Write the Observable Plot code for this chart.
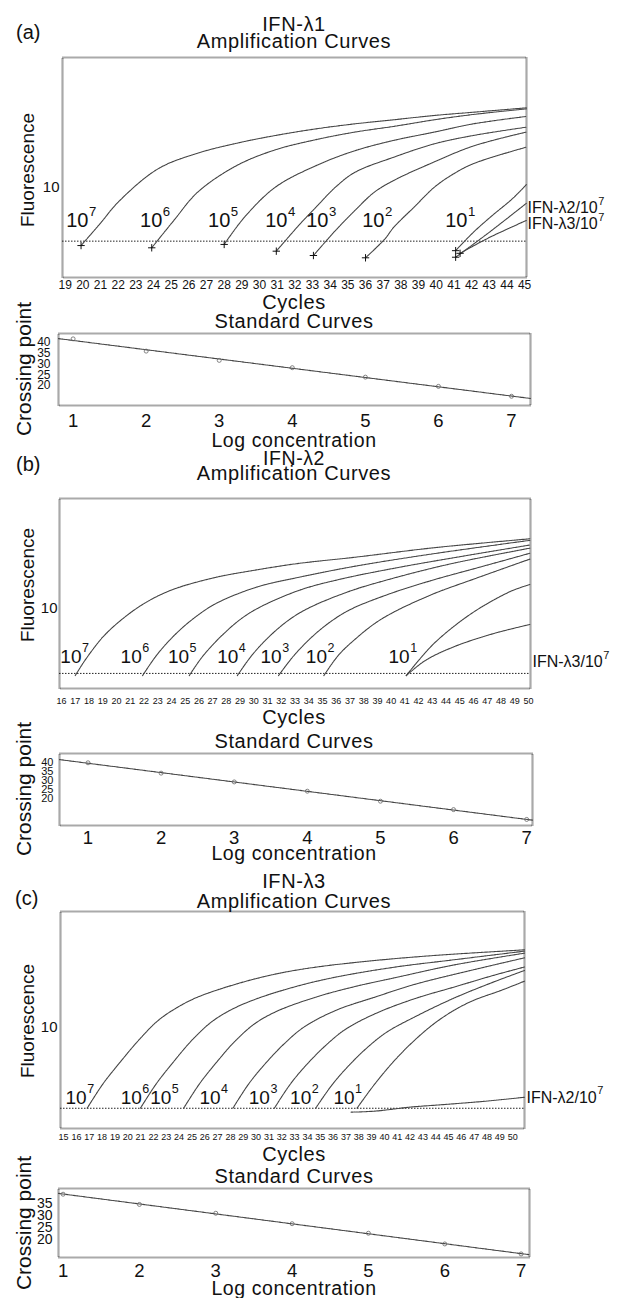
<!DOCTYPE html>
<html><head><meta charset="utf-8">
<script src="https://cdn.jsdelivr.net/npm/d3@7"></script>
<script src="https://cdn.jsdelivr.net/npm/@observablehq/plot@0.6"></script>
<style>
html,body{margin:0;padding:0;background:#fff;}
#root{position:relative;width:618px;height:1298px;overflow:hidden;font-family:"Liberation Sans",Arial,Helvetica,sans-serif;color:#111;}
.lbl{position:absolute;white-space:nowrap;line-height:1;}
.t{transform:translate(-50%,-50%);letter-spacing:0.6px;}
.v{transform:translate(-50%,-50%) rotate(-90deg);}
.p{transform:translate(0,-50%);}
</style></head><body><div id="root"></div>
<script>
const FONT = '"Liberation Sans", Arial, Helvetica, sans-serif';

// ---------- Panel (a) IFN-λ1 amplification curves: [cycle, fluorescence] ----------
const CYCLES_A = [19,20,21,22,23,24,25,26,27,28,29,30,31,32,33,34,35,36,37,38,39,40,41,42,43,44,45];
const A_E7 = [[19.9,3.66],[21.0,5.39],[22.0,7.76],[24.25,13.8],[26.5,18.1],[28.7,21.5],[30.9,24.6],[33.2,27.6],[35.4,30.1],[37.6,32.3],[39.9,34.8],[42.1,36.8],[45.1,39.7]];
const A_E6 = [[23.9,3.52],[25.15,5.65],[26.5,9.22],[28.7,14.6],[30.9,19.2],[33.2,22.9],[35.4,26.1],[37.6,28.8],[39.9,32.3],[42.1,35.4],[45.1,39.0]];
const A_E5 = [[28.0,3.73],[29.15,5.98],[30.9,10.06],[33.2,14.6],[35.4,18.9],[37.6,22.6],[39.9,26.1],[42.1,30.1],[45.1,34.2]];
const A_E4 = [[30.95,3.32],[32.3,5.33],[33.2,7.12],[34.3,10.06],[35.4,13.0],[37.6,16.9],[39.9,21.3],[42.1,24.6],[45.1,28.4]];
const A_E3 = [[33.05,3.08],[34.3,4.75],[35.4,6.72],[36.5,9.22],[37.6,11.3],[39.9,15.6],[42.1,20.5],[45.1,26.1]];
const A_E2 = [[36.0,2.96],[37.1,4.11],[37.6,5.03],[38.75,7.12],[39.9,10.06],[41.0,12.7],[42.1,15.1],[45.1,20.1]];
const A_E1 = [[41.1,3.35],[42.1,4.6],[43.2,6.2],[44.3,8.2],[45.1,10.5]];
const A_L2 = [[41.1,2.99],[43.0,4.6],[45.1,7.6]];
const A_L3 = [[41.35,3.2],[43.0,4.2],[45.1,5.65]];
const A_THRESHOLD = 3.95;
const A_LABEL_EXP = ["7","6","5","4","3","2","1"];
const A_LABEL_X = [19.06,23.24,27.09,30.32,32.64,35.81,40.51];
const A_LABEL_Y = 5.65;
const A_SIDE_TEXT = ["IFN-λ2/10","IFN-λ3/10"];
const A_SIDE_EXP = ["7","7"];
const A_SIDE_Y = [7.0, 5.3];

// ---------- Panel (b) IFN-λ2 ----------
const CYCLES_B = [16,17,18,19,20,21,22,23,24,25,26,27,28,29,30,31,32,33,34,35,36,37,38,39,40,41,42,43,44,45,46,47,48,49,50];
const B_E7 = [[17.0,3.13],[17.7,4.07],[19.0,6.09],[20.15,7.89],[21.6,10.24],[23.0,12.39],[24.45,14.3],[27.3,17.2],[30.2,19.5],[33.1,21.7],[37.4,24.3],[43.1,28.6],[50.1,33.4]];
const B_E6 = [[21.9,3.13],[23.0,4.56],[24.45,6.64],[25.9,8.86],[27.3,10.97],[30.2,14.47],[33.1,17.0],[37.4,20.8],[43.1,25.8],[50.1,32.5]];
const B_E5 = [[25.3,3.13],[26.3,4.4],[27.7,6.3],[29.1,8.4],[30.5,10.3],[33.4,13.8],[36.3,16.6],[40.6,20.4],[45.5,25.0],[50.1,30.0]];
const B_E4 = [[28.8,3.13],[29.9,4.5],[31.3,6.4],[32.7,8.4],[34.1,10.2],[37.0,13.5],[39.9,16.6],[44.2,21.5],[50.1,28.4]];
const B_E3 = [[31.8,3.13],[32.9,4.4],[34.3,6.2],[35.7,8.1],[37.1,9.9],[40.0,13.0],[43.0,16.3],[46.5,20.5],[50.1,26.0]];
const B_E2 = [[35.1,3.13],[36.2,4.5],[37.4,5.9],[38.8,7.7],[40.2,9.4],[43.1,12.9],[46.0,16.6],[50.1,23.5]];
const B_E1 = [[41.1,3.13],[42.0,4.07],[43.1,5.43],[44.5,7.24],[46.0,9.39],[47.4,11.47],[48.85,13.65],[50.1,15.15]];
const B_L3 = [[41.1,3.13],[42.5,4.07],[44.5,5.12],[47.4,6.45],[50.1,7.58]];
const B_THRESHOLD = 3.25;
const B_LABEL_EXP = ["7","6","5","4","3","2","1"];
const B_LABEL_X = [15.91,20.30,23.75,27.33,30.49,33.79,39.81];
const B_LABEL_Y = 4.36;
const B_SIDE_TEXT = ["IFN-λ3/10"];
const B_SIDE_EXP = ["7"];
const B_SIDE_Y = [3.95];

// ---------- Panel (c) IFN-λ3 ----------
const CYCLES_C = [15,16,17,18,19,20,21,22,23,24,25,26,27,28,29,30,31,32,33,34,35,36,37,38,39,40,41,42,43,44,45,46,47,48,49,50];
const C_E7 = [[16.84,2.475],[18.07,3.77],[19.3,5.33],[20.83,7.98],[22.37,11.29],[23.9,14.22],[25.44,16.91],[28.51,21.29],[31.58,25.3],[34.65,28.42],[39.26,31.9],[43.86,34.78],[50.92,38.37]];
const C_E6 = [[20.99,2.475],[22.22,3.77],[23.44,5.33],[24.98,7.98],[26.51,10.97],[28.05,13.58],[30.04,16.43],[33.11,20.33],[36.19,23.9],[40.79,28.42],[45.4,32.28],[50.92,37.5]];
const C_E5 = [[24.36,2.475],[25.59,3.77],[26.82,5.33],[28.36,7.89],[29.89,10.66],[31.58,13.19],[34.65,16.91],[37.72,20.33],[40.79,23.63],[45.4,29.5],[50.92,36.22]];
const C_E4 = [[28.2,2.475],[29.43,3.77],[30.66,5.27],[32.19,7.54],[33.73,10.06],[36.19,13.42],[39.26,16.91],[42.33,21.05],[46.93,27.14],[50.92,33.4]];
const C_E3 = [[31.43,2.475],[32.65,3.73],[33.88,5.18],[35.42,7.32],[36.95,9.66],[39.26,12.67],[42.33,16.43],[45.4,20.1],[48.47,24.6],[50.92,28.5]];
const C_E2 = [[34.65,2.475],[35.88,3.66],[37.11,5.03],[38.64,7.03],[40.18,9.22],[42.33,11.96],[45.4,16.6],[48.47,21.9],[50.92,26.84]];
const C_E1 = [[37.87,2.475],[39.26,3.77],[40.79,5.65],[42.33,7.98],[43.86,10.66],[45.4,13.42],[46.93,15.96],[49.08,18.98],[50.92,22.31]];
const C_L2 = [[37.41,2.31],[39.26,2.35],[42.02,2.52],[44.78,2.64],[47.85,2.79],[50.92,2.99]];
const C_THRESHOLD = 2.47;
const C_LABEL_EXP = ["7","6","5","4","3","2","1"];
const C_LABEL_X = [15.15,19.45,21.75,25.59,29.43,32.65,36.03];
const C_LABEL_Y = 2.98;
const C_SIDE_TEXT = ["IFN-λ2/10"];
const C_SIDE_EXP = ["7"];
const C_SIDE_Y = [2.98];

const FLUOR_TICKS = [10];
const LABEL_BASE = "10";

// ---------- Standard curves: crossing point vs log concentration ----------
const LOG_CONC = [1,2,3,4,5,6,7];
const CP_A = [41.7,36.0,31.7,28.3,23.9,19.6,15.0];
const CP_B = [39.8,34.0,29.1,23.9,18.3,13.6,8.1];
const CP_C = [38.9,34.6,30.9,26.5,22.5,18.0,13.8];
const CP_TICKS_AB = [20,25,30,35,40];
const CP_TICKS_C = [20,25,30,35];

const root = document.getElementById("root");
const ctx = document.createElement("canvas").getContext("2d");
function textWidth(s, size) { ctx.font = size + "px " + FONT; return ctx.measureText(s).width; }
function place(svg, top) {
  svg.style.position = "absolute";
  svg.style.left = "0px";
  svg.style.top = top + "px";
  root.appendChild(svg);
}
const baseStyle = {background: "none", overflow: "visible", fontFamily: FONT, color: "#111"};
const frameMark = () => Plot.frame({stroke: "#555", strokeWidth: 2.2, strokeDasharray: "1,1"});

function ampPlot(c) {
  const [l, r, t, b] = c.frame;
  const mt = 4, mb = 24;
  const starts = c.markers ? c.series.map(s => s[0]) : [];
  const baseW = textWidth(LABEL_BASE, c.labelFont);
  const sideW = c.sideText.map(s => textWidth(s, 16));
  const svg = Plot.plot({
    width: 618, height: b - t + mt + mb,
    marginLeft: l, marginRight: 618 - r, marginTop: mt, marginBottom: mb,
    x: {domain: c.xDomain, axis: null},
    y: {type: "log", domain: c.yDomain, axis: null},
    style: baseStyle,
    marks: [
      frameMark(),
      Plot.ruleY([c.threshold], {stroke: "#222", strokeWidth: 1, strokeDasharray: "1.5,1.5"}),
      ...c.series.map(s => Plot.line(s, {x: d => d[0], y: d => d[1], curve: "catmull-rom", stroke: "#444", strokeWidth: 1.1, strokeDasharray: "1.8,0.7"})),
      Plot.dot(starts, {x: d => d[0], y: d => d[1], symbol: "plus", r: 2.5, stroke: "#111", strokeWidth: 1}),
      Plot.text(c.ticks, {x: d => d, text: d => String(d), frameAnchor: "bottom", dy: c.tickDy, fontSize: c.tickFont, lineAnchor: "middle"}),
      Plot.text(FLUOR_TICKS, {y: d => d, text: d => String(d), frameAnchor: "left", dx: c.tenDx, textAnchor: "end", lineAnchor: "middle", fontSize: 15}),
      Plot.text(c.labelExp, {x: (d, i) => c.labelX[i], y: () => c.labelY, text: () => LABEL_BASE, textAnchor: "start", lineAnchor: "middle", fontSize: c.labelFont}),
      Plot.text(c.labelExp, {x: (d, i) => c.labelX[i], y: () => c.labelY, text: d => d, dx: baseW + 0.5, dy: -c.labelFont * 0.42, textAnchor: "start", lineAnchor: "middle", fontSize: c.labelFont * 0.66}),
      ...c.sideText.map((s, i) => Plot.text([s], {x: () => c.xDomain[1], y: () => c.sideY[i], text: d => d, dx: c.sideDx, textAnchor: "start", lineAnchor: "middle", fontSize: 16})),
      ...c.sideExp.map((s, i) => Plot.text([s], {x: () => c.xDomain[1], y: () => c.sideY[i], text: d => d, dx: c.sideDx + sideW[i] + 0.5, dy: -6.5, textAnchor: "start", lineAnchor: "middle", fontSize: 11}))
    ]
  });
  place(svg, t - mt);
}

function fit(xs, ys) {
  const mx = d3.mean(xs), my = d3.mean(ys);
  const slope = d3.sum(xs, (x, i) => (x - mx) * (ys[i] - my)) / d3.sum(xs, x => (x - mx) ** 2);
  return x => my + slope * (x - mx);
}

function stdPlot(c) {
  const [l, r, t, b] = c.frame;
  const mt = 4, mb = 30;
  const f = fit(LOG_CONC, c.values);
  const fitLine = c.xDomain.map(x => ({x, y: f(x)}));
  const svg = Plot.plot({
    width: 618, height: b - t + mt + mb,
    marginLeft: l, marginRight: 618 - r, marginTop: mt, marginBottom: mb,
    x: {domain: c.xDomain, axis: null},
    y: {domain: c.yDomain, axis: null},
    style: baseStyle,
    marks: [
      frameMark(),
      Plot.line(fitLine, {x: "x", y: "y", stroke: "#444", strokeWidth: 1.1, strokeDasharray: "1.8,0.7"}),
      Plot.dot(LOG_CONC, {x: d => d, y: (d, i) => c.values[i], r: 2, stroke: "#666", fill: "none", strokeWidth: 0.8}),
      Plot.text(LOG_CONC, {x: d => d, text: d => String(d), frameAnchor: "bottom", dy: c.xTickDy, fontSize: 18.5, lineAnchor: "middle"}),
      Plot.text(c.yTicks, {y: d => d, text: d => String(d), frameAnchor: "left", dx: c.yTickDx, textAnchor: "end", lineAnchor: "middle", fontSize: c.yTickFont})
    ]
  });
  place(svg, t - mt);
}

// Panel (a)
ampPlot({frame: [62, 526, 57, 277], xDomain: [18.85, 45.11], yDomain: [2.105, 94.9],
  series: [A_E7, A_E6, A_E5, A_E4, A_E3, A_E2, A_E1, A_L2, A_L3], markers: true,
  threshold: A_THRESHOLD, ticks: CYCLES_A, tickDy: 8, tickFont: 12, tenDx: -3,
  labelExp: A_LABEL_EXP, labelX: A_LABEL_X, labelY: A_LABEL_Y, labelFont: 20,
  sideText: A_SIDE_TEXT, sideExp: A_SIDE_EXP, sideY: A_SIDE_Y, sideDx: 1});
stdPlot({frame: [58, 530, 333, 405], xDomain: [0.80, 7.26], yDomain: [10.7, 44.2],
  values: CP_A, yTicks: CP_TICKS_AB, yTickFont: 12, yTickDx: -8, xTickDy: 16});

// Panel (b)
ampPlot({frame: [59, 530, 498, 688], xDomain: [15.85, 50.15], yDomain: [2.503, 67.1],
  series: [B_E7, B_E6, B_E5, B_E4, B_E3, B_E2, B_E1, B_L3], markers: false,
  threshold: B_THRESHOLD, ticks: CYCLES_B, tickDy: 13, tickFont: 9, tenDx: -2,
  labelExp: B_LABEL_EXP, labelX: B_LABEL_X, labelY: B_LABEL_Y, labelFont: 19,
  sideText: B_SIDE_TEXT, sideExp: B_SIDE_EXP, sideY: B_SIDE_Y, sideDx: 2});
stdPlot({frame: [59, 532, 753, 825], xDomain: [0.61, 7.08], yDomain: [4.7, 45.0],
  values: CP_B, yTicks: CP_TICKS_AB, yTickFont: 11, yTickDx: -6, xTickDy: 12.5});

// Panel (c)
ampPlot({frame: [60, 524, 911, 1128], xDomain: [14.76, 50.92], yDomain: [1.74, 74.5],
  series: [C_E7, C_E6, C_E5, C_E4, C_E3, C_E2, C_E1, C_L2], markers: false,
  threshold: C_THRESHOLD, ticks: CYCLES_C, tickDy: 9, tickFont: 9, tenDx: -3,
  labelExp: C_LABEL_EXP, labelX: C_LABEL_X, labelY: C_LABEL_Y, labelFont: 19,
  sideText: C_SIDE_TEXT, sideExp: C_SIDE_EXP, sideY: C_SIDE_Y, sideDx: 2});
stdPlot({frame: [58, 529, 1188, 1257], xDomain: [0.94, 7.11], yDomain: [12.3, 41.3],
  values: CP_C, yTicks: CP_TICKS_C, yTickFont: 14, yTickDx: -6, xTickDy: 14});

// ---------- Titles and axis labels ----------
const TEXTS = [
  ["(a)", 16, 31.5, 20, "p"], ["IFN-λ1", 294, 24, 20, "t"], ["Amplification Curves", 294, 40.5, 20, "t"],
  ["Fluorescence", 27, 170, 19, "v"], ["Cycles", 294, 302, 20, "t"], ["Standard Curves", 294, 320.5, 20, "t"],
  ["Crossing point", 23, 369, 21, "v"], ["Log concentration", 294, 441, 19.5, "t"],
  ["(b)", 16, 464, 20, "p"], ["IFN-λ2", 294, 458.5, 19.5, "t"], ["Amplification Curves", 294, 473, 20, "t"],
  ["Fluorescence", 27, 585, 19, "v"], ["Cycles", 294, 717, 20, "t"], ["Standard Curves", 294, 740.5, 20, "t"],
  ["Crossing point", 23, 789, 21, "v"], ["Log concentration", 294, 854, 19.5, "t"],
  ["(c)", 15, 898, 20, "p"], ["IFN-λ3", 294, 880.5, 20, "t"], ["Amplification Curves", 294, 900.5, 20, "t"],
  ["Fluorescence", 27, 1021, 19, "v"], ["Cycles", 294, 1154, 20, "t"], ["Standard Curves", 294, 1175.5, 20, "t"],
  ["Crossing point", 23, 1223, 21, "v"], ["Log concentration", 294, 1288.5, 19.5, "t"]
];
for (const [txt, x, y, size, kind] of TEXTS) {
  const d = document.createElement("div");
  d.className = "lbl " + kind;
  d.textContent = txt;
  d.style.left = x + "px";
  d.style.top = y + "px";
  d.style.fontSize = size + "px";
  root.appendChild(d);
}
</script></body></html>
